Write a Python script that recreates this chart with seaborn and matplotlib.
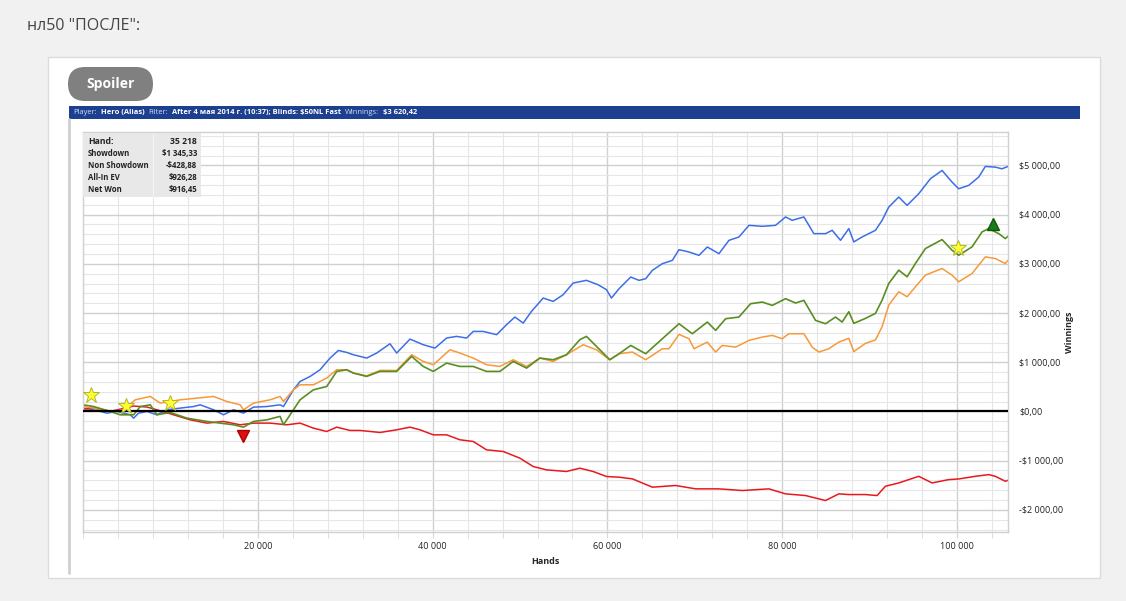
import seaborn as sns
import matplotlib.pyplot as plt
from matplotlib.patches import Rectangle, FancyBboxPatch
from matplotlib.transforms import Affine2D
from matplotlib.ticker import MultipleLocator, FuncFormatter

# values (hands, dollars)
blue_hands = [0, 838, 1981, 2743, 3886, 5410, 5790, 6362, 7314, 8457,
              9600, 11124, 12648, 13410, 14933, 16076, 17219, 18362, 19505, 21029,
              22552, 22933, 24076, 24838, 25981, 27124, 28267, 29219, 30171, 30933,
              32457, 33600, 35124, 35886, 37410, 38933, 40267, 41600, 42743, 43886,
              44648, 45791, 47315, 48458, 49410, 50363, 51315, 52649, 53792, 54935,
              56078, 57602, 58935, 59888, 60459, 61331, 62665, 63617, 64379, 65141,
              66284, 67427, 68189, 69332, 70475, 71428, 72761, 73904, 75047, 76190,
              77714, 79238, 80381, 81143, 82477, 83620, 84953, 85715, 86668, 87618,
              88190, 89142, 90666, 91428, 92190, 93333, 94286, 95619, 96953, 98286,
              99429, 100190, 101334, 102477, 103239, 104382, 105144, 105830]
blue_vals = [68, 47, 0, -34, 0, -68, -136, -34, 0, -68,
             34, 68, 100, 135, 34, -68, 34, -34, 88, 100,
             135, 100, 440, 610, 712, 848, 1085, 1240, 1200, 1153,
             1085, 1187, 1376, 1187, 1471, 1356, 1288, 1492, 1526, 1492,
             1627, 1627, 1560, 1763, 1919, 1797, 2034, 2305, 2237, 2373,
             2610, 2665, 2576, 2475, 2305, 2495, 2732, 2665, 2698, 2868,
             3004, 3071, 3288, 3241, 3173, 3343, 3207, 3478, 3546, 3783,
             3763, 3783, 3953, 3885, 3953, 3614, 3614, 3682, 3478, 3716,
             3446, 3547, 3682, 3885, 4155, 4358, 4189, 4426, 4730, 4899,
             4662, 4527, 4595, 4764, 4980, 4966, 4932, 4980]

orange_hands = [0, 1219, 3505, 4648, 5981, 7695, 8838, 9981, 11124, 13029,
                14933, 16457, 17981, 18362, 19505, 21410, 22552, 22933, 24076, 24838,
                26362, 27886, 29029, 30171, 30933, 32457, 33981, 35886, 37600, 38933,
                40076, 41981, 43124, 44648, 46171, 47696, 49220, 50744, 52268, 53792,
                55316, 57221, 58745, 60269, 61331, 62855, 64379, 66284, 67046, 68189,
                69332, 69904, 71428, 72380, 73142, 74666, 76190, 77714, 78857, 80000,
                80762, 82477, 83429, 84191, 85334, 86477, 87618, 88190, 89523, 90666,
                91428, 92190, 93333, 94286, 95238, 96381, 98286, 99429, 100190, 101715,
                103239, 104382, 105525, 105830]
orange_vals = [100, 68, 0, 34, 237, 305, 170, 203, 237, 271,
               305, 203, 135, 34, 170, 237, 305, 203, 440, 542,
               542, 678, 848, 848, 780, 725, 834, 834, 1153, 1017,
               949, 1254, 1187, 1085, 949, 915, 1051, 915, 1085, 1017,
               1153, 1356, 1254, 1051, 1173, 1207, 1051, 1275, 1275, 1566,
               1478, 1275, 1410, 1207, 1342, 1308, 1444, 1512, 1546, 1478,
               1580, 1580, 1308, 1207, 1275, 1410, 1487, 1216, 1385, 1453,
               1723, 2162, 2433, 2331, 2534, 2770, 2906, 2770, 2635, 2804,
               3142, 3108, 3007, 3074]

green_hands = [0, 1219, 2743, 4267, 5790, 6552, 7695, 8457, 9981, 11886,
               14171, 15695, 17219, 18362, 19505, 21029, 22552, 22933, 23695, 24838,
               26362, 27886, 29029, 30171, 30933, 32457, 33981, 35886, 37600, 38933,
               40076, 41600, 43124, 44648, 46171, 47696, 49220, 50744, 52268, 53792,
               55316, 56840, 57602, 58745, 60269, 61331, 62665, 64379, 66284, 68189,
               69713, 71428, 72380, 73523, 75047, 76381, 77714, 78857, 80381, 81524,
               82477, 83810, 84953, 86096, 86858, 87618, 88190, 89523, 90666, 91428,
               92190, 93333, 94286, 95238, 96381, 98286, 99429, 100190, 101715, 102858,
               103620, 104763, 105525, 105830]
green_vals = [135, 100, 20, -68, -68, 100, 135, -68, -20, -136,
              -203, -237, -271, -319, -203, -170, -100, -271, -68, 237,
              440, 508, 814, 848, 780, 712, 814, 814, 1119, 915,
              814, 983, 915, 915, 814, 814, 1017, 881, 1085, 1051,
              1153, 1458, 1526, 1322, 1051, 1173, 1342, 1173, 1478, 1783,
              1580, 1817, 1648, 1885, 1919, 2190, 2224, 2156, 2292, 2204,
              2258, 1851, 1783, 1919, 1817, 2027, 1791, 1892, 1993, 2264,
              2602, 2872, 2737, 3007, 3311, 3493, 3277, 3176, 3345, 3649,
              3716, 3615, 3514, 3561]

red_hands = [0, 1219, 3124, 5790, 7314, 8457, 10362, 12267, 14171, 16076,
             17981, 19505, 21410, 23314, 24838, 26362, 27886, 29029, 30552, 31695,
             33981, 35886, 37410, 38552, 40076, 41600, 43124, 44648, 46171, 48077,
             49982, 51506, 53030, 55316, 56840, 58364, 59888, 61331, 62855, 65141,
             67808, 70094, 72761, 75428, 78476, 80381, 82667, 84953, 86477, 87618,
             89523, 90857, 91809, 93333, 95619, 97143, 99048, 100190, 102096, 103620,
             104382, 105525, 105830]
red_vals = [47, 68, 0, 110, 90, 34, -68, -170, -237, -203,
            -271, -237, -237, -271, -237, -339, -407, -319, -386, -386,
            -427, -373, -319, -373, -475, -475, -576, -610, -780, -814,
            -949, -1119, -1187, -1220, -1153, -1220, -1322, -1336, -1370, -1539,
            -1505, -1573, -1573, -1607, -1573, -1675, -1709, -1810, -1675, -1689,
            -1689, -1709, -1520, -1453, -1318, -1453, -1385, -1372, -1318, -1284,
            -1318, -1419, -1399]

star_hands = [950, 4900, 9980, 100070]
star_vals = [339, 115, 170, 3320]
down_hands, down_vals = [18362], [-508]
up_hands, up_vals = [104070], [3815]

x_ticks = [20000, 40000, 60000, 80000, 100000]
stat_labels = ["Hand:", "Showdown", "Non Showdown", "All-In EV", "Net Won"]
stat_values = ["35 218", "$1 345,33", "-$428,88", "$926,28", "$916,45"]

sns.set_style("white")
plt.rcParams["font.family"] = ["Open Sans", "DejaVu Sans"]

W, H = 1126, 601
fig = plt.figure(figsize=(W / 100, H / 100), dpi=100)
fig.patch.set_facecolor("#f1f1f1")
# pixel coords, origin top-left
pix = Affine2D().scale(1 / W, -1 / H).translate(0, 1) + fig.transFigure

fig.text(27, 26, 'нл50 "ПОСЛЕ":', transform=pix, fontsize=11.5, color="#444444", va="center")
fig.add_artist(Rectangle((48, 57), 1052, 521, transform=pix, facecolor="white",
                         edgecolor="#dcdcdc", lw=1, zorder=-5))
fig.add_artist(FancyBboxPatch((68, 67), 85, 34, boxstyle="round,pad=0,rounding_size=17",
                              transform=pix, facecolor="#808080", edgecolor="none"))
fig.text(110.5, 84, "Spoiler", transform=pix, fontsize=10, color="white",
         fontweight="bold", ha="center", va="center")

# header bar
fig.add_artist(Rectangle((69, 106), 1011, 13, transform=pix, facecolor="#1d3f8f", edgecolor="none"))
header = [("Player:", "normal"), ("Hero (Alias)", "bold"), ("Filter:", "normal"),
          ("After 4 мая 2014 г. (10:37); Blinds: $50NL Fast", "bold"),
          ("Winnings:", "normal"), ("$3 620,42", "bold")]
renderer = fig.canvas.get_renderer()
hx = 73
for txt, wt in header:
    t = fig.text(hx, 112.5, txt, transform=pix, fontsize=5.4, va="center", fontweight=wt,
                 color="white" if wt == "bold" else "#d3def5")
    hx += t.get_window_extent(renderer).width + 4

fig.add_artist(plt.Line2D([69, 69], [119, 573], transform=pix, color="#d0d0d0", lw=2))

ax = fig.add_axes([83 / W, 1 - 532 / H, 925 / W, 400 / H])
ax.set_facecolor("white")

sns.lineplot(x=blue_hands, y=blue_vals, color="#3c6ee6", lw=1.1, ax=ax)
sns.lineplot(x=red_hands, y=red_vals, color="#e8191c", lw=1.1, ax=ax)
sns.lineplot(x=orange_hands, y=orange_vals, color="#f7993a", lw=1.1, ax=ax)
sns.lineplot(x=green_hands, y=green_vals, color="#5a8e23", lw=1.2, ax=ax)
ax.axhline(0, color="black", lw=1.6, zorder=3)

ax.plot(star_hands, star_vals, ls="none", marker="*", ms=12, mfc="#ffff33", mec="#b5b52a", mew=0.7, zorder=5)
ax.plot(down_hands, down_vals, ls="none", marker="v", ms=9, mfc="#e01010", mec="#b00000", zorder=5)
ax.plot(up_hands, up_vals, ls="none", marker="^", ms=9, mfc="#1b7a1b", mec="#0f5a0f", zorder=5)

ax.set_xlim(0, 105830)
ax.set_ylim(-2450, 5680)
ax.set_xticks(x_ticks)
ax.xaxis.set_minor_locator(MultipleLocator(4000))
ax.yaxis.set_major_locator(MultipleLocator(1000))
ax.yaxis.set_minor_locator(MultipleLocator(200))
ax.grid(which="minor", color="#e6e6e6", lw=0.8)
ax.grid(which="major", color="#d0d0d0", lw=1.0)
ax.set_axisbelow(True)


def money(v, pos):
    s = f"{abs(v):,.2f}".replace(",", " ").replace(".", ",")
    return ("-$" if v < 0 else "$") + s


ax.yaxis.tick_right()
ax.yaxis.set_major_formatter(FuncFormatter(money))
ax.xaxis.set_major_formatter(FuncFormatter(lambda v, p: f"{int(v):,}".replace(",", " ")))
ax.tick_params(axis="y", which="both", length=0, pad=8, labelsize=6.5, labelcolor="#222222")
ax.tick_params(axis="x", which="both", length=4, color="#d8d8d8", pad=3, labelsize=6.5,
               labelcolor="#222222", bottom=True)
for sp in ax.spines.values():
    sp.set_color("#d0d0d0")
    sp.set_linewidth(1)
ax.set_xlabel("")
ax.set_ylabel("")

fig.text(545, 562, "Hands", transform=pix, fontsize=6.5, fontweight="bold", ha="center", va="center")
fig.text(1070, 332, "Winnings", transform=pix, fontsize=6.5, fontweight="bold", ha="center",
         va="center", rotation=90)

# stats box
fig.add_artist(Rectangle((83, 133), 118, 64, transform=pix, facecolor="#e8e8e8", edgecolor="none", zorder=6))
fig.add_artist(plt.Line2D([153, 153], [133, 197], transform=pix, color="#f4f4f4", lw=0.8, zorder=6))
for i, (lab, val) in enumerate(zip(stat_labels, stat_values)):
    yy = 142 + i * 11.8
    fs = 6.2 if i == 0 else 5.6
    fig.text(88, yy, lab, transform=pix, fontsize=fs, fontweight="bold", color="#222222", va="center", zorder=7)
    fig.text(197, yy, val, transform=pix, fontsize=fs, fontweight="bold", color="#222222",
             va="center", ha="right", zorder=7)

fig.savefig("out.png", dpi=100, facecolor=fig.get_facecolor())
